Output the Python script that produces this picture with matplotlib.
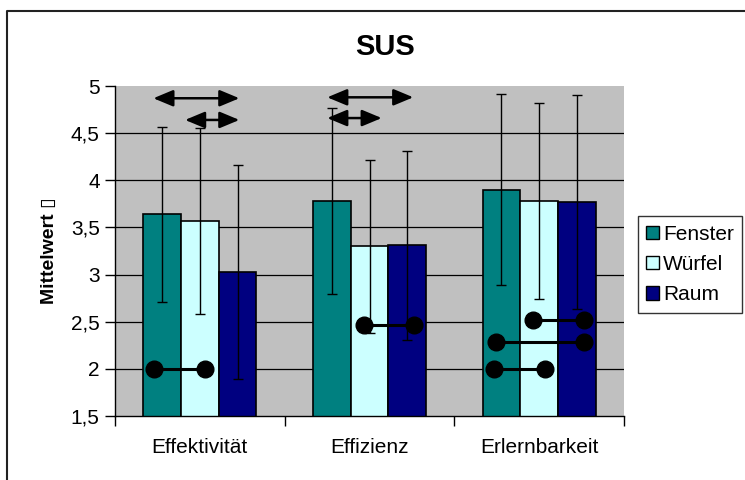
import matplotlib
matplotlib.use("Agg")
import matplotlib.pyplot as plt
from matplotlib.patches import Patch
from matplotlib.lines import Line2D

plt.rcParams['font.family'] = ['Liberation Sans', 'DejaVu Sans']

# ---- data ----
categories = ["Effektivität", "Effizienz", "Erlernbarkeit"]
series = ["Fenster", "Würfel", "Raum"]
fenster_mean = [3.64, 3.78, 3.90]
wuerfel_mean = [3.57, 3.30, 3.78]
raum_mean = [3.03, 3.31, 3.77]
fenster_err = [0.93, 0.99, 1.01]
wuerfel_err = [0.985, 0.92, 1.04]
raum_err = [1.135, 1.00, 1.13]
colors = ["#008080", "#CCFFFF", "#000080"]
yticks = [1.5, 2, 2.5, 3, 3.5, 4, 4.5, 5]
ytick_labels = ["1,5", "2", "2,5", "3", "3,5", "4", "4,5", "5"]

# significance markers: (category index, y, left offset, right offset)
dot_pairs = [
    (0, 2.00, -0.27, 0.03),
    (1, 2.47, -0.03, 0.26),
    (2, 2.52, -0.035, 0.264),
    (2, 2.28, -0.256, 0.264),
    (2, 2.00, -0.264, 0.034),
]
arrow_pairs = [
    (0, 4.87, -0.274, 0.233),
    (0, 4.64, -0.087, 0.233),
    (1, 4.88, -0.249, 0.258),
    (1, 4.66, -0.249, 0.072),
]

W, H = 745, 480
fig = plt.figure(figsize=(W / 100, H / 100), dpi=100)

# outer frame (top and left visible)
fig.add_artist(Line2D([7 / W, 7 / W, 1.0], [0.0, 1 - 11 / H, 1 - 11 / H],
                      transform=fig.transFigure, color="#222222", lw=1.5))

ax = fig.add_axes([115 / W, 1 - 416 / H, (624 - 115) / W, (416 - 86) / H])
ax.set_facecolor("#C0C0C0")

x = list(range(len(categories)))
w = 1 / 4.5
means = [fenster_mean, wuerfel_mean, raum_mean]
errs = [fenster_err, wuerfel_err, raum_err]
offsets = [-w, 0, w]

ax.set_xlim(-0.5, len(categories) - 0.5)
ax.set_ylim(1.5, 5)

# gridlines
for t in yticks[1:-1]:
    ax.axhline(t, color="black", lw=0.9, zorder=1)

for i in range(3):
    xs = [xi + offsets[i] for xi in x]
    ax.bar(xs, means[i], width=w, color=colors[i], edgecolor="black",
           linewidth=1.2, zorder=2, label=series[i])
    ax.errorbar(xs, means[i], yerr=errs[i], fmt="none", ecolor="black",
                elinewidth=1.0, capsize=3.8, capthick=1.0, zorder=3)

for c, y, l, r in dot_pairs:
    ax.plot([c + l, c + r], [y, y], color="black", lw=2.2, marker="o",
            markersize=12, zorder=5, solid_capstyle="butt")

for c, y, l, r in arrow_pairs:
    ax.annotate("", xy=(c + r, y), xytext=(c + l, y),
                arrowprops=dict(arrowstyle="<|-|>,head_length=1.2,head_width=0.5",
                                mutation_scale=10, color="black", lw=1.8,
                                shrinkA=0, shrinkB=0),
                zorder=6, annotation_clip=False)

for s in ["top", "right"]:
    ax.spines[s].set_visible(False)
ax.spines["left"].set_linewidth(1.0)
ax.spines["bottom"].set_linewidth(1.0)

ax.set_yticks(yticks)
ax.set_yticklabels(ytick_labels, fontsize=15)
ax.tick_params(axis="y", direction="out", length=7, width=1, pad=4)

ax.set_xticks(x)
ax.set_xticklabels(categories, fontsize=15)
ax.set_xticks([-0.5, 0.5, 1.5, 2.5], minor=True)
ax.tick_params(axis="x", which="major", length=0, pad=16)
ax.tick_params(axis="x", which="minor", direction="out", length=7, width=1)

ax.set_ylabel("Mittelwert ▯", fontsize=14, fontweight="bold")
ax.yaxis.set_label_coords(-0.112, 0.5)

fig.text(385 / W, 1 - 47 / H, "SUS", fontsize=21, fontweight="bold",
         ha="center", va="center")

handles = [Patch(facecolor=colors[i], edgecolor="black", lw=1.0) for i in range(3)]
leg = fig.legend(handles, series, loc="center left",
                 bbox_to_anchor=(638 / W, 1 - 264.5 / H), bbox_transform=fig.transFigure,
                 fontsize=15, frameon=True, fancybox=False, borderaxespad=0,
                 handlelength=0.6, handleheight=0.6, handletextpad=0.2,
                 labelspacing=0.55, borderpad=0.4)
leg.get_frame().set_edgecolor("black")
leg.get_frame().set_linewidth(1.0)

fig.savefig("out.png", dpi=100)
